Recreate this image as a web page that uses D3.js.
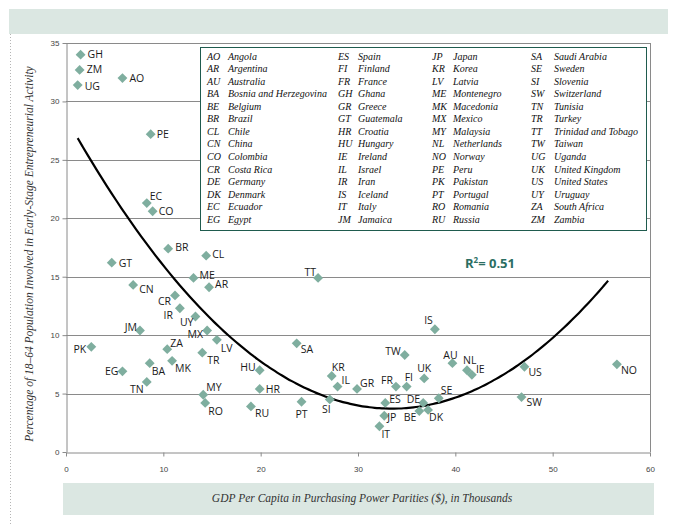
<!DOCTYPE html>
<html>
<head>
<meta charset="utf-8">
<script src="https://cdn.jsdelivr.net/npm/d3@7"></script>
<style>
  body { margin: 0; background: #fff; }
  svg { display: block; }
</style>
</head>
<body>
<div id="vis"></div>
<script>
// country codes, GDP per capita (PPP, thousands) and TEA rate (%)
const codes = ["GH","ZM","UG","AO","PE","EC","CO","BR","GT","CL","ME","CN","AR","CR","IR","UY","JM","MX","LV","PK","ZA","TR","BA","MK","EG","TN","MY","RO",
               "TT","SA","HU","HR","RU","PT","SI","KR","IL","GR","FR","FI","TW","UK","ES","JP","IT","DE","BE","DK","IS","AU","NL","IE","SE","US","SW","NO"];
const gdp = [1.5,1.4,1.2,5.8,8.7,8.3,8.9,10.5,4.7,14.4,13.1,6.9,14.7,11.2,11.7,13.3,7.6,14.5,15.5,2.6,10.4,14.0,8.6,10.9,5.8,8.3,14.1,14.3,
             25.9,23.7,19.9,19.9,19.0,24.2,27.1,27.3,27.9,29.9,33.9,35.0,34.8,36.8,32.8,32.7,32.2,36.7,36.3,37.2,37.9,39.7,41.2,41.7,38.3,47.1,46.8,56.6];
const tea = [34.0,32.7,31.4,32.0,27.2,21.3,20.6,17.4,16.2,16.8,14.9,14.3,14.1,13.4,12.3,11.6,10.4,10.4,9.6,9.0,8.8,8.5,7.6,7.8,6.9,6.0,4.9,4.2,
             14.9,9.3,7.0,5.4,3.9,4.3,4.5,6.5,5.6,5.4,5.6,5.6,8.3,6.3,4.2,3.1,2.2,4.2,3.5,3.6,10.5,7.6,7.0,6.6,4.6,7.3,4.7,7.5];

// legend columns (code, name)
const legendCodes = [
  ["AO","AR","AU","BA","BE","BR","CL","CN","CO","CR","DE","DK","EC","EG"],
  ["ES","FI","FR","GH","GR","GT","HR","HU","IE","IL","IR","IS","IT","JM"],
  ["JP","KR","LV","ME","MK","MX","MY","NL","NO","PE","PK","PT","RO","RU"],
  ["SA","SE","SI","SW","TN","TR","TT","TW","UG","UK","US","UY","ZA","ZM"]];
const legendNames = [
  ["Angola","Argentina","Australia","Bosnia and Herzegovina","Belgium","Brazil","Chile","China","Colombia","Costa Rica","Germany","Denmark","Ecuador","Egypt"],
  ["Spain","Finland","France","Ghana","Greece","Guatemala","Croatia","Hungary","Ireland","Israel","Iran","Iceland","Italy","Jamaica"],
  ["Japan","Korea","Latvia","Montenegro","Macedonia","Mexico","Malaysia","Netherlands","Norway","Peru","Pakistan","Portugal","Romania","Russia"],
  ["Saudi Arabia","Sweden","Slovenia","Switzerland","Tunisia","Turkey","Trinidad and Tobago","Taiwan","Uganda","United Kingdom","United States","Uruguay","South Africa","Zambia"]];

// quadratic trend: y = c0 + c1*x + c2*x^2
const trendCoef = [28.61, -1.487, 0.0222];
const trendRange = [1.2, 56.0];
const rSquared = "0.51";

const xTicks = [0, 10, 20, 30, 40, 50, 60];
const yTicks = [0, 5, 10, 15, 20, 25, 30, 35];

// label placement around each diamond: [dx, dy, anchor]
const labelPos = {
  GH:[7,-1,"start"], ZM:[7,-1,"start"], UG:[7,1,"start"], AO:[7,0,"start"], PE:[6,0,"start"],
  EC:[3,-7,"start"], CO:[6,0,"start"], BR:[7,-2,"start"], GT:[7,0,"start"], CL:[6,-2,"start"],
  ME:[6,-3,"start"], CN:[6,4,"start"], AR:[6,-3,"start"], CR:[-4,6,"end"], IR:[-7,7,"end"],
  UY:[-2,6,"end"], JM:[-3,-3,"end"], MX:[-4,4,"end"], LV:[4,8,"start"], PK:[-5,2,"end"],
  ZA:[3,-6,"start"], TR:[5,7,"start"], BA:[2,8,"start"], MK:[3,7,"start"], EG:[-4,0,"end"],
  TN:[-3,7,"end"], MY:[3,-8,"start"], RO:[3,8,"start"], TT:[-2,-6,"end"], SA:[4,6,"start"],
  HU:[-4,-3,"end"], HR:[6,0,"start"], RU:[4,7,"start"], PT:[0,12,"middle"], SI:[1,10,"end"],
  KR:[0,-9,"start"], IL:[4,-7,"start"], GR:[3,-6,"start"], FR:[-3,-7,"end"], FI:[-2,-10,"start"],
  TW:[-4,-4,"end"], UK:[0,-10,"middle"], ES:[4,-4,"start"], JP:[3,1,"start"], IT:[2,8,"start"],
  DE:[-3,-4,"end"], BE:[-3,6,"end"], DK:[1,7,"start"], IS:[-2,-9,"end"], AU:[-2,-8,"middle"],
  NL:[-4,-10,"start"], IE:[4,-6,"start"], SE:[2,-8,"start"], US:[4,5,"start"], SW:[5,5,"start"],
  NO:[4,6,"start"]
};

const W = 674, H = 524;
const svg = d3.select("#vis").append("svg").attr("width", W).attr("height", H);

const x = d3.scaleLinear().domain([0, 60]).range([66, 650]);
const y = d3.scaleLinear().domain([0, 35]).range([452, 43]);

const band = "#dbe7e2";
const gridCol = "#8a8a8a";

// page decoration
svg.append("rect").attr("x", 9).attr("y", 9).attr("width", 659).attr("height", 25).attr("fill", band);
svg.append("rect").attr("x", 63).attr("y", 483).attr("width", 591).attr("height", 32).attr("fill", band);
svg.append("line").attr("x1", 10.5).attr("x2", 10.5).attr("y1", 34).attr("y2", 524)
  .attr("stroke", "#b5b5b5").attr("stroke-dasharray", "1,2");

// gridlines
svg.append("g").selectAll("line").data(yTicks.filter(d => d > 0)).join("line")
  .attr("x1", x(0)).attr("x2", x(60))
  .attr("y1", d => Math.round(y(d)) + 0.5).attr("y2", d => Math.round(y(d)) + 0.5)
  .attr("stroke", gridCol).attr("stroke-width", 1);
svg.append("line").attr("x1", Math.round(x(60)) + 0.5).attr("x2", Math.round(x(60)) + 0.5)
  .attr("y1", y(35)).attr("y2", y(0)).attr("stroke", gridCol);

// axes
const tickFont = "Arial, 'Liberation Sans', sans-serif";
const yAxis = svg.append("g").attr("transform", `translate(${Math.round(x(0)) + 0.5},0)`)
  .call(d3.axisLeft(y).tickValues(yTicks).tickSize(4).tickSizeOuter(0));
const xAxis = svg.append("g").attr("transform", `translate(0,${Math.round(y(0)) + 0.5})`)
  .call(d3.axisBottom(x).tickValues(xTicks).tickSize(4).tickSizeOuter(0));
[yAxis, xAxis].forEach(a => {
  a.select(".domain").attr("stroke", gridCol);
  a.selectAll(".tick line").attr("stroke", gridCol);
  a.selectAll(".tick text").attr("fill", "#444").style("font-family", tickFont).style("font-size", "8px");
});
yAxis.selectAll(".tick text").attr("x", -7);
xAxis.selectAll(".tick text").attr("y", 14);

// legend box
const lg = svg.append("g");
lg.append("rect").attr("x", 200.5).attr("y", 47.5).attr("width", 446).attr("height", 183)
  .attr("fill", "#fff").attr("stroke", "#1f5b4e").attr("stroke-width", 1);
const colCodeX = [207, 338, 432, 531];
const colNameX = [228, 358, 453, 554];
legendCodes.forEach((col, ci) => {
  col.forEach((c, ri) => {
    const by = 59.5 + ri * 12.57;
    lg.append("text").attr("x", colCodeX[ci]).attr("y", by).text(c)
      .style("font-family", "'Liberation Serif', 'Times New Roman', serif").style("font-style", "italic").style("font-size", "10px").attr("fill", "#111");
    lg.append("text").attr("x", colNameX[ci]).attr("y", by).text(legendNames[ci][ri])
      .style("font-family", "'Liberation Serif', 'Times New Roman', serif").style("font-style", "italic").style("font-size", "10px").attr("fill", "#111");
  });
});

// trend curve
const trendX = d3.range(trendRange[0], trendRange[1] + 0.001, 0.5);
const line = d3.line().x(d => x(d)).y(d => y(trendCoef[0] + trendCoef[1] * d + trendCoef[2] * d * d)).curve(d3.curveBasis);
svg.append("path").datum(trendX).attr("d", line).attr("fill", "none").attr("stroke", "#000").attr("stroke-width", 2.2);

// points
const data = codes.map((c, i) => ({ code: c, gdp: gdp[i], tea: tea[i] }));
const diamond = d3.symbol().type(d3.symbolDiamond2).size(62);
svg.append("g").selectAll("path").data(data).join("path")
  .attr("d", diamond)
  .attr("transform", d => `translate(${x(d.gdp)},${y(d.tea)})`)
  .attr("fill", "#7fae9f");

svg.append("g").selectAll("text").data(data).join("text")
  .attr("x", d => x(d.gdp) + labelPos[d.code][0])
  .attr("y", d => y(d.tea) + labelPos[d.code][1])
  .attr("text-anchor", d => labelPos[d.code][2])
  .attr("dominant-baseline", "central")
  .style("font-family", "'Open Sans', sans-serif").style("font-size", "10.5px").attr("fill", "#1a1a1a")
  .text(d => d.code);

// R squared
const rt = svg.append("text").attr("x", 465).attr("y", 268)
  .style("font-family", "'Open Sans', sans-serif").style("font-size", "13px").style("font-weight", "bold").attr("fill", "#2b6e62");
rt.append("tspan").text("R");
rt.append("tspan").attr("dy", -5).style("font-size", "8px").text("2");
rt.append("tspan").attr("dy", 5).text("= " + rSquared);

// axis titles
svg.append("text").attr("transform", "translate(33,254) rotate(-90)").attr("text-anchor", "middle")
  .style("font-family", "'Liberation Serif', 'Times New Roman', serif").style("font-style", "italic").style("font-size", "11.5px").attr("fill", "#333")
  .text("Percentage of 18\u201364 Population Involved in Early-Stage Entrepreneurial Activity");
svg.append("text").attr("x", 362).attr("y", 502).attr("text-anchor", "middle")
  .style("font-family", "'Liberation Serif', 'Times New Roman', serif").style("font-style", "italic").style("font-size", "11.5px").attr("fill", "#333")
  .text("GDP Per Capita in Purchasing Power Parities ($), in Thousands");
</script>
</body>
</html>
